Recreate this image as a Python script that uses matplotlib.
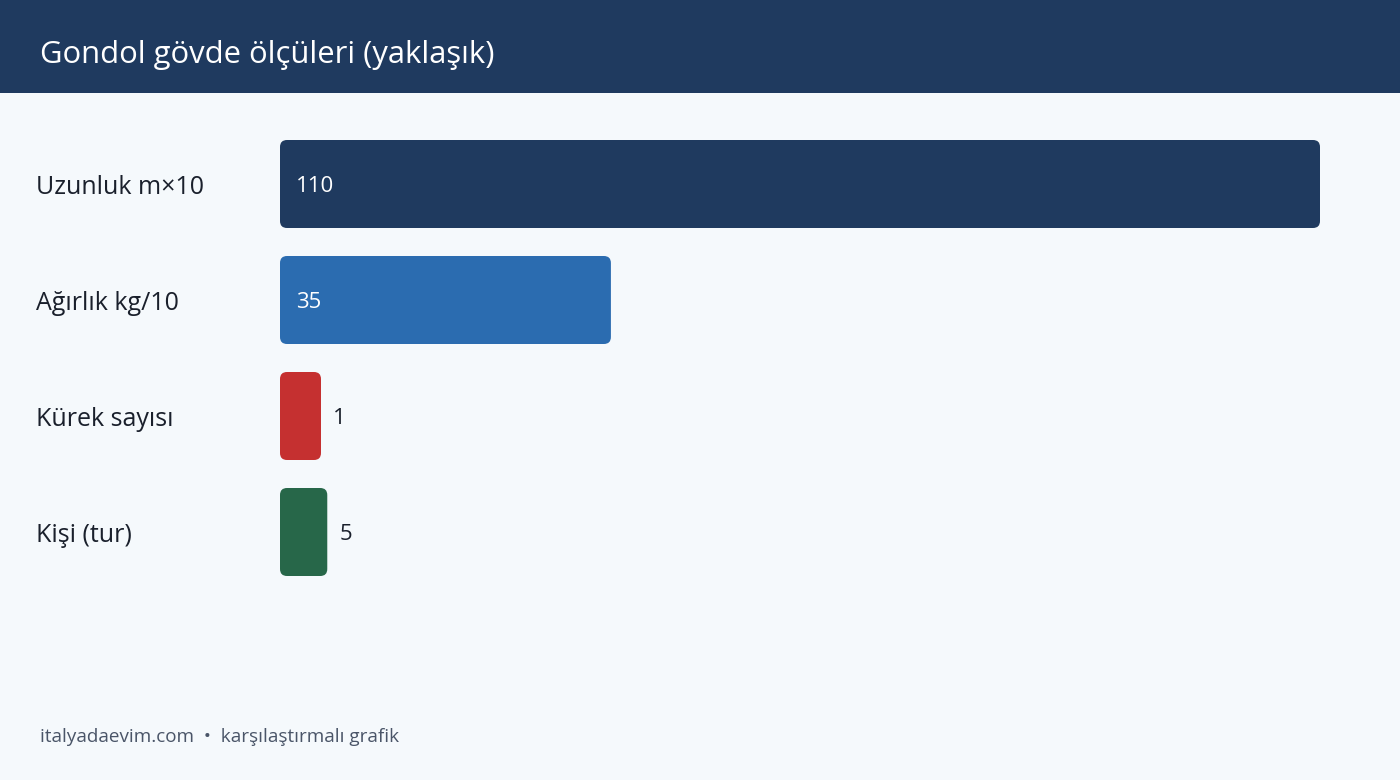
import matplotlib.pyplot as plt
from matplotlib.patches import FancyBboxPatch, Rectangle
from matplotlib.transforms import blended_transform_factory, offset_copy

plt.rcParams['font.family'] = ['Open Sans', 'DejaVu Sans']

# dados
categorias = ['Uzunluk m×10', 'Ağırlık kg/10', 'Kürek sayısı', 'Kişi (tur)']
valores = [110, 35, 1, 5]
cores = ['#1f3a5f', '#2b6cb0', '#c53030', '#276749']
titulo = 'Gondol gövde ölçüleri (yaklaşık)'
rodape = 'italyadaevim.com  •  karşılaştırmalı grafik'

W, H = 1400, 780
fig = plt.figure(figsize=(W / 100, H / 100), dpi=100)
fig.patch.set_facecolor('#f5f9fc')

# faixa do título
fig.patches.append(Rectangle((0, 1 - 93 / H), 1, 93 / H, transform=fig.transFigure,
                             facecolor='#1f3a5f', edgecolor='none', zorder=0))
fig.text(40 / W, 1 - 55 / H, titulo, color='white', fontsize=22.3,
         va='center', ha='left')

# eixo das barras
ax_left, ax_right = 280, 1320
ax_top, ax_bot = 126, 590
ax = fig.add_axes([ax_left / W, 1 - ax_bot / H, (ax_right - ax_left) / W, (ax_bot - ax_top) / H])
ax.set_xlim(0, 110)
ax.set_ylim(len(categorias) - 0.5, -0.5)
ax.axis('off')

px_x = (ax_right - ax_left) / 110          # pixels por unidade x
px_y = (ax_bot - ax_top) / len(categorias)  # pixels por unidade y
raio = 7 / px_x
altura = 88 / px_y
largura_min = 41 / px_x

trans_lbl = offset_copy(blended_transform_factory(fig.transFigure, ax.transData),
                        fig=fig, y=-3, units='dots')
trans_val = offset_copy(ax.transData, fig=fig, y=-2, units='dots')

for i, (cat, v, c) in enumerate(zip(categorias, valores, cores)):
    w = max(v, largura_min)
    p = FancyBboxPatch((0, i - altura / 2), w, altura,
                       boxstyle=f'round,pad=0,rounding_size={raio}',
                       mutation_aspect=px_x / px_y,
                       facecolor=c, edgecolor='none')
    ax.add_patch(p)
    ax.text(36 / W, i, cat, transform=trans_lbl, fontsize=18, color='#1a202c',
            va='center', ha='left')
    if w * px_x > 100:
        ax.text(16 / px_x, i, str(v), transform=trans_val, color='white', fontsize=16,
                va='center', ha='left')
    else:
        ax.text(w + 12 / px_x, i, str(v), transform=trans_val, color='#1a202c',
                fontsize=16, va='center', ha='left')

fig.text(40 / W, 1 - 737 / H, rodape, color='#4a5568', fontsize=13.6,
         va='center', ha='left')

fig.savefig('out.png', dpi=100, facecolor=fig.get_facecolor())
